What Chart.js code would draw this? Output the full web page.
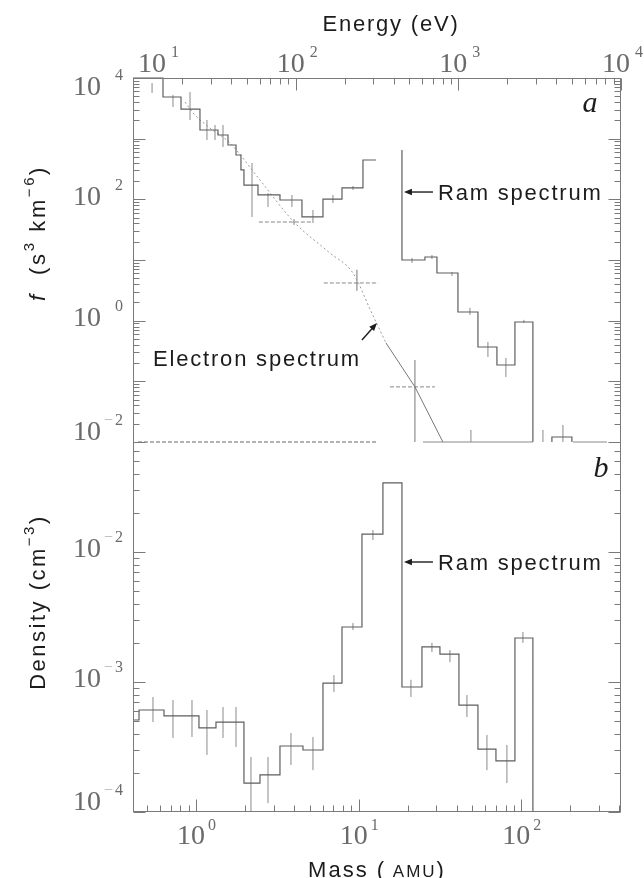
<!DOCTYPE html>
<html>
<head>
<meta charset="utf-8">
<title>Ram and electron spectra</title>
<script src="https://cdn.jsdelivr.net/npm/chart.js"></script>
<style>
  html, body { margin: 0; padding: 0; background: #fff; }
  #wrap { position: relative; width: 644px; height: 878px; }
  #wrap canvas { position: absolute; left: 0; top: 0; }
</style>
</head>
<body>
<div id="wrap">
  <canvas id="panelA" width="644" height="878"></canvas>
  <canvas id="panelB" width="644" height="878"></canvas>
</div>
<script>
// axis ranges - mass and energy axes share one decade length (about 24 eV per AMU at ram speed)
const massMin = 0.41, massMax = 410;
const energyMin = 10, energyMax = 1e4;
const fMin = 1e-2, fMax = 1e4;
const nMin = 1e-4, nMax = 0.0702;

// tick label exponents
const fLabelExps = [-2, 0, 2, 4];
const nLabelExps = [-4, -3, -2];
const energyLabelExps = [1, 2, 3, 4];
const massLabelExps = [0, 1, 2];

// panel a: low mass histogram, f (s^3 km^-6) per mass bin
const lowMassEdges = [0.41, 0.627, 0.809, 1.058, 1.365, 1.573, 1.762, 1.890, 1.972, 2.405, 3.283, 4.482, 6.034, 7.898, 10.63, 12.77];
const lowMassF = [10000, 4860, 3080, 1390, 1150, 787, 538, 305, 172, 118, 97.5, 51.2, 101, 154, 445];
const lowMassErrAt = [0.537, 0.722, 0.919, 1.168, 1.309, 1.466, 2.21, 2.771, 3.89, 5.237, 6.95, 9.226];
const lowMassErrLo = [5660, 3330, 2030, 951, 951, 729, 51.2, 74.8, 74.8, 40.7, 87.1, 143];
const lowMassErrHi = [8270, 5250, 5870, 2030, 1680, 1680, 397, 127, 118, 66.7, 118, 166];

// panel a: ram spectrum
const ramTopFA = 650;
const ramEdgesA = [18.46, 25.56, 30.29, 40.77, 54.12, 70.80, 91.35, 117.8];
const ramFA = [10.0, 11.2, 6.1, 1.39, 0.368, 0.186, 0.95];
const ramErrAtA = [21.27, 28.22, 37.46, 48.32, 62.34, 80.4, 103.7, 49.0, 135.8, 180.2];
const ramErrLoA = [8.93, 10.4, 5.45, 1.24, 0.252, 0.118, 0.916, 0.01, 0.01, 0.01];
const ramErrHiA = [10.8, 12.1, 6.34, 1.62, 0.446, 0.243, 1.03, 0.0158, 0.0158, 0.0191];
const humpEdges = [154.2, 204.6];
const humpF = 0.0121;
const floorDashed = [0.44, 12.96];
const floorSolid = [24.85, 117.8, 207.6, 336];

// panel a: electron spectrum (energy axis)
const eCurveE = [20.9, 23.4, 29.7, 39.4, 60.3, 97.7, 162.5, 225, 290, 359];
const eCurveF = [4020, 2650, 1500, 849, 208, 42.3, 13.0, 6.1, 1.44, 0.43];
const eTailE = [359, 541, 804];
const eTailF = [0.43, 0.081, 0.01];
const ePtE = [97.7, 238, 541];
const ePtF = [42.3, 4.18, 0.081];
const ePtELo = [59.4, 149, 380];
const ePtEHi = [126, 321, 718];
const ePtFLo = [38, 3.1, 0.01];
const ePtFHi = [47, 6.9, 0.225];

// panel b: density (cm^-3) per mass bin
const densEdges = [0.41, 0.4465, 0.6357, 1.043, 1.327, 1.972, 2.474, 3.283, 4.546, 6.034, 7.898, 10.48, 14.10, 18.46, 24.50, 31.60, 41.36, 54.12, 69.83, 91.35, 117.8];
const densValues = [5.1e-4, 6.09e-4, 5.48e-4, 4.43e-4, 4.92e-4, 1.67e-4, 1.93e-4, 3.22e-4, 3.00e-4, 9.8e-4, 2.65e-3, 1.375e-2, 3.40e-2, 9.15e-4, 1.86e-3, 1.64e-3, 6.65e-4, 3.05e-4, 2.47e-4, 2.18e-3];
const densErrAt = [0.544, 0.722, 0.945, 1.168, 1.466, 1.762, 2.178, 2.771, 3.836, 5.237, 7.05, 9.226, 12.24, 20.96, 28.22, 36.41, 46.31, 61.46, 81.55, 102.3];
const densErrLo = [4.92e-4, 3.71e-4, 3.78e-4, 2.75e-4, 3.71e-4, 3.16e-4, 1e-4, 1.17e-4, 2.30e-4, 2.10e-4, 8.38e-4, 2.51e-3, 1.236e-2, 7.67e-4, 1.70e-3, 1.42e-3, 5.38e-4, 2.10e-4, 1.67e-4, 2.0e-3];
const densErrHi = [7.67e-4, 7.27e-4, 7.27e-4, 6.09e-4, 6.42e-4, 6.42e-4, 2.65e-4, 2.65e-4, 4.05e-4, 3.78e-4, 1.13e-3, 2.84e-3, 1.476e-2, 1.04e-3, 2.0e-3, 1.76e-3, 7.94e-4, 3.91e-4, 3.28e-4, 2.43e-3];

// where the annotations point
const ramLabelF = 132;
const ramLabelN = 8.38e-3;
const eArrowTail = [255.6, 0.48];
const eArrowTip = [316, 0.916];

// page layout
const W = 644, H = 878;
const frame = { left: 133, right: 621, top: 78, mid: 442, bottom: 812 };
const lineColor = '#5e5e5e';
const tickColor = '#6a6a6a';
const textColor = '#1c1c1c';

// helpers
function histPoints(edges, vals, endValue) {
    const pts = vals.map((v, i) => ({ x: edges[i], y: v }));
    pts.push({ x: edges[edges.length - 1], y: endValue === undefined ? vals[vals.length - 1] : endValue });
    return pts;
}

function errPoints(xs, lo, hi) {
    const pts = [];
    xs.forEach((x, i) => pts.push({ x: x, y: lo[i] }, { x: x, y: hi[i] }, { x: x, y: null }));
    return pts;
}

function segPoints(xs, y) {
    const pts = [];
    for (let i = 0; i < xs.length; i += 2) {
        pts.push({ x: xs[i], y: y }, { x: xs[i + 1], y: y }, { x: xs[i + 1], y: null });
    }
    return pts;
}

function decadeTicks(min, max) {
    const ticks = [];
    const e0 = Math.floor(Math.log10(min)), e1 = Math.ceil(Math.log10(max));
    for (let e = e0; e <= e1; e++) {
        for (let k = 1; k < 10; k++) {
            const v = k * Math.pow(10, e);
            if (v >= min * 0.9999 && v <= max * 1.0001) ticks.push({ value: v, major: k === 1 });
        }
    }
    return ticks;
}

function line(opts) {
    return Object.assign({
        showLine: true, spanGaps: false, pointRadius: 0, pointHoverRadius: 0,
        borderColor: lineColor, borderWidth: 1.2, fill: false, clip: 3
    }, opts);
}

function logAxis(min, max, extra) {
    return Object.assign({
        type: 'logarithmic', min: min, max: max,
        grid: { display: false }, border: { display: false }, ticks: { display: false },
        afterBuildTicks: s => { s.ticks = decadeTicks(s.min, s.max); }
    }, extra);
}

// "10" with a raised exponent
function drawPow(ctx, exp, mainRight, mainY, expX, expY, expAlign) {
    ctx.fillStyle = tickColor;
    ctx.textBaseline = 'middle';
    ctx.font = '28px "Liberation Serif", "Times New Roman", serif';
    ctx.textAlign = 'right';
    ctx.fillText('10', mainRight, mainY);
    ctx.font = '16px "Liberation Serif", "Times New Roman", serif';
    const digits = String(Math.abs(exp));
    ctx.textAlign = expAlign;
    ctx.fillText(digits, expX, expY);
    if (exp < 0) {
        const dw = ctx.measureText(digits).width;
        ctx.fillStyle = '#b5b5b5';
        ctx.textAlign = 'right';
        ctx.fillText('\u2212', expAlign === 'right' ? expX - dw - 2 : expX - 2, expY);
    }
}

// mixed-size text, optionally rotated to read upwards
function richText(ctx, parts, x, y, align, rotate, spacing) {
    ctx.save();
    ctx.translate(x, y);
    if (rotate) ctx.rotate(-Math.PI / 2);
    ctx.letterSpacing = spacing || '0px';
    const fontOf = p => (p[3] ? 'italic ' : '') + p[1] + 'px "Liberation Sans", Arial, sans-serif';
    let total = 0;
    const widths = parts.map(p => { ctx.font = fontOf(p); const w = ctx.measureText(p[0]).width; total += w; return w; });
    let cx = align === 'center' ? -total / 2 : (align === 'right' ? -total : 0);
    ctx.fillStyle = textColor;
    ctx.textAlign = 'left';
    ctx.textBaseline = 'alphabetic';
    parts.forEach((p, i) => { ctx.font = fontOf(p); ctx.fillText(p[0], cx, -p[2]); cx += widths[i]; });
    ctx.restore();
}

function arrow(ctx, x0, y0, x1, y1) {
    const ang = Math.atan2(y1 - y0, x1 - x0), h = 8, w = 3.2;
    const c = Math.cos(ang), s = Math.sin(ang);
    ctx.beginPath();
    ctx.moveTo(x0, y0);
    ctx.lineTo(x1 - h * 0.7 * c, y1 - h * 0.7 * s);
    ctx.stroke();
    ctx.beginPath();
    ctx.moveTo(x1, y1);
    ctx.lineTo(x1 - h * c + w * s, y1 - h * s - w * c);
    ctx.lineTo(x1 - h * c - w * s, y1 - h * s + w * c);
    ctx.closePath();
    ctx.fill();
}

// frame, inward ticks and power-of-ten labels
function framePlugin(id, cfg) {
    return {
        id: id,
        afterDraw(chart) {
            const { ctx, chartArea: a } = chart;
            const L = Math.round(a.left) + 0.5, R = Math.round(a.right) - 0.5;
            const T = Math.round(a.top) + 0.5, B = Math.round(a.bottom) - 0.5;
            ctx.save();
            ctx.strokeStyle = '#7a7a7a';
            ctx.lineWidth = 1;
            ctx.beginPath();
            ctx.moveTo(L, a.top); ctx.lineTo(L, a.bottom);
            ctx.moveTo(R, a.top); ctx.lineTo(R, a.bottom);
            if (cfg.top) { ctx.moveTo(a.left, T); ctx.lineTo(a.right, T); }
            if (cfg.bottom) { ctx.moveTo(a.left, B); ctx.lineTo(a.right, B); }
            cfg.ticks.forEach(ts => {
                const s = chart.scales[ts.id];
                s.ticks.forEach(t => {
                    const p = Math.round(s.getPixelForValue(t.value)) + 0.5;
                    const len = t.major ? 12 : 6;
                    ts.sides.forEach(side => {
                        if (side === 'left') { ctx.moveTo(L, p); ctx.lineTo(L + len, p); }
                        if (side === 'right') { ctx.moveTo(R, p); ctx.lineTo(R - len, p); }
                        if (side === 'top') { ctx.moveTo(p, T); ctx.lineTo(p, T + len); }
                        if (side === 'bottom') { ctx.moveTo(p, B); ctx.lineTo(p, B - len); }
                    });
                });
            });
            ctx.stroke();

            cfg.labels.forEach(lb => {
                const s = chart.scales[lb.id];
                lb.exps.forEach(exp => {
                    const p = s.getPixelForValue(Math.pow(10, exp));
                    if (lb.side === 'left') {
                        const my = Math.min(Math.max(p - 2, a.top + 10), a.bottom - 9);
                        drawPow(ctx, exp, a.left - 32, my, a.left - 10, my - 12, 'right');
                    } else {
                        ctx.font = '28px "Liberation Serif", "Times New Roman", serif';
                        const w10 = ctx.measureText('10').width;
                        let right = p + 9;
                        if (right - w10 < a.left) right = a.left + 5 + w10;
                        if (lb.side === 'top') {
                            drawPow(ctx, exp, right, a.top - 13, right + 5, a.top - 25, 'left');
                        } else {
                            drawPow(ctx, exp, right, a.bottom + 25, right + 3, a.bottom + 14, 'left');
                        }
                    }
                });
            });
            ctx.restore();
        }
    };
}

const annotA = {
    id: 'annotA',
    afterDraw(chart) {
        const { ctx, chartArea: a, scales } = chart;
        ctx.save();
        richText(ctx, [['Energy (eV)', 22, 0]], (a.left + a.right) / 2 + 14, 31, 'center', false, '1.8px');
        richText(ctx, [['f', 22, 0, true], ['  (s', 22, 0], ['3', 15, 11], [' km', 22, 0], ['\u22126', 15, 11], [')', 22, 0]],
            45, 233, 'center', true, '2.6px');

        ctx.fillStyle = textColor;
        ctx.font = 'italic 30px "Liberation Serif", "Times New Roman", serif';
        ctx.textAlign = 'center';
        ctx.textBaseline = 'alphabetic';
        ctx.fillText('a', a.right - 31, a.top + 34);

        ctx.strokeStyle = textColor;
        ctx.lineWidth = 1.4;
        const tipX = scales.x.getPixelForValue(ramEdgesA[0]) + 2;
        const tipY = scales.y.getPixelForValue(ramLabelF);
        arrow(ctx, tipX + 29, tipY, tipX, tipY);
        richText(ctx, [['Ram spectrum', 22, 0]], tipX + 34, tipY + 8, 'left', false, '1.8px');

        const tx = scales.xE.getPixelForValue(eArrowTail[0]), ty = scales.y.getPixelForValue(eArrowTail[1]);
        const hx = scales.xE.getPixelForValue(eArrowTip[0]), hy = scales.y.getPixelForValue(eArrowTip[1]);
        arrow(ctx, tx, ty, hx, hy);
        richText(ctx, [['Electron spectrum', 22, 0]], tx - 1, ty + 26, 'right', false, '1.8px');
        ctx.restore();
    }
};

const annotB = {
    id: 'annotB',
    afterDraw(chart) {
        const { ctx, chartArea: a, scales } = chart;
        ctx.save();
        richText(ctx, [['Mass (', 22, 0], [' AMU', 17, 0], [')', 22, 0]], (a.left + a.right) / 2, 877, 'center', false, '2px');
        richText(ctx, [['Density (cm', 22, 0], ['\u22123', 15, 11], [')', 22, 0]], 45, 602, 'center', true, '2.5px');

        ctx.fillStyle = textColor;
        ctx.font = 'italic 30px "Liberation Serif", "Times New Roman", serif';
        ctx.textAlign = 'center';
        ctx.textBaseline = 'alphabetic';
        ctx.fillText('b', a.right - 20, a.top + 35);

        ctx.strokeStyle = textColor;
        ctx.lineWidth = 1.4;
        const tipX = scales.x.getPixelForValue(densEdges[13]) + 2;
        const tipY = scales.y.getPixelForValue(ramLabelN);
        arrow(ctx, tipX + 29, tipY, tipX, tipY);
        richText(ctx, [['Ram spectrum', 22, 0]], tipX + 34, tipY + 8, 'left', false, '1.8px');
        ctx.restore();
    }
};

const baseOptions = (padding) => ({
    responsive: false,
    animation: false,
    events: [],
    layout: { autoPadding: false, padding: padding },
    plugins: { legend: { display: false }, tooltip: { enabled: false }, title: { display: false } }
});

// panel a
const optsA = baseOptions({ left: 0, right: W - frame.right, top: 0, bottom: H - frame.mid });
optsA.scales = {
    x: { type: 'logarithmic', min: massMin, max: massMax, display: false },
    xE: logAxis(energyMin, energyMax, { position: 'top', afterFit: s => { s.height = frame.top; } }),
    y: logAxis(fMin, fMax, { position: 'left', afterFit: s => { s.width = frame.left; } })
};

new Chart(document.getElementById('panelA'), {
    type: 'scatter',
    data: {
        datasets: [
            line({ data: segPoints(floorDashed, fMin), borderColor: '#9a9a9a', borderDash: [4, 2], borderWidth: 1.4 }),
            line({ data: segPoints(floorSolid, fMin), borderColor: '#8a8a8a' }),
            line({ data: [{ x: humpEdges[0], y: fMin }, { x: humpEdges[0], y: humpF }, { x: humpEdges[1], y: fMin }], stepped: true }),
            line({ data: histPoints(lowMassEdges, lowMassF), stepped: true }),
            line({ data: errPoints(lowMassErrAt, lowMassErrLo, lowMassErrHi), borderColor: '#8a8a8a', borderWidth: 1 }),
            line({ data: [{ x: ramEdgesA[0], y: ramTopFA }].concat(histPoints(ramEdgesA, ramFA, fMin)), stepped: true }),
            line({ data: errPoints(ramErrAtA, ramErrLoA, ramErrHiA), borderColor: '#8a8a8a', borderWidth: 1 }),
            line({ xAxisID: 'xE', data: eCurveE.map((e, i) => ({ x: e, y: eCurveF[i] })),
                borderColor: '#9a9a9a', borderWidth: 1, borderDash: [2, 2.5], cubicInterpolationMode: 'monotone' }),
            line({ xAxisID: 'xE', data: eTailE.map((e, i) => ({ x: e, y: eTailF[i] })), borderColor: '#777', borderWidth: 1 }),
            line({ xAxisID: 'xE', data: errPoints(ePtE, ePtFLo, ePtFHi), borderColor: '#777', borderWidth: 1 }),
            line({ xAxisID: 'xE', data: ePtF.map((f, i) => [{ x: ePtELo[i], y: f }, { x: ePtEHi[i], y: f }, { x: ePtEHi[i], y: null }]).flat(),
                borderColor: '#888', borderWidth: 1, borderDash: [4, 2] })
        ]
    },
    options: optsA,
    plugins: [
        framePlugin('frameA', {
            top: true, bottom: false,
            ticks: [{ id: 'y', sides: ['left', 'right'] }, { id: 'xE', sides: ['top'] }],
            labels: [{ id: 'y', side: 'left', exps: fLabelExps }, { id: 'xE', side: 'top', exps: energyLabelExps }]
        }),
        annotA
    ]
});

// panel b
const optsB = baseOptions({ left: 0, right: W - frame.right, top: frame.mid, bottom: 0 });
optsB.scales = {
    x: logAxis(massMin, massMax, { position: 'bottom', afterFit: s => { s.height = H - frame.bottom; } }),
    y: logAxis(nMin, nMax, { position: 'left', afterFit: s => { s.width = frame.left; } })
};

new Chart(document.getElementById('panelB'), {
    type: 'scatter',
    data: {
        datasets: [
            line({ data: histPoints(densEdges, densValues, nMin), stepped: true }),
            line({ data: errPoints(densErrAt, densErrLo, densErrHi), borderColor: '#8a8a8a', borderWidth: 1 })
        ]
    },
    options: optsB,
    plugins: [
        framePlugin('frameB', {
            top: false, bottom: true,
            ticks: [{ id: 'y', sides: ['left', 'right'] }, { id: 'x', sides: ['bottom'] }],
            labels: [{ id: 'y', side: 'left', exps: nLabelExps }, { id: 'x', side: 'bottom', exps: massLabelExps }]
        }),
        annotB
    ]
});
</script>
</body>
</html>
